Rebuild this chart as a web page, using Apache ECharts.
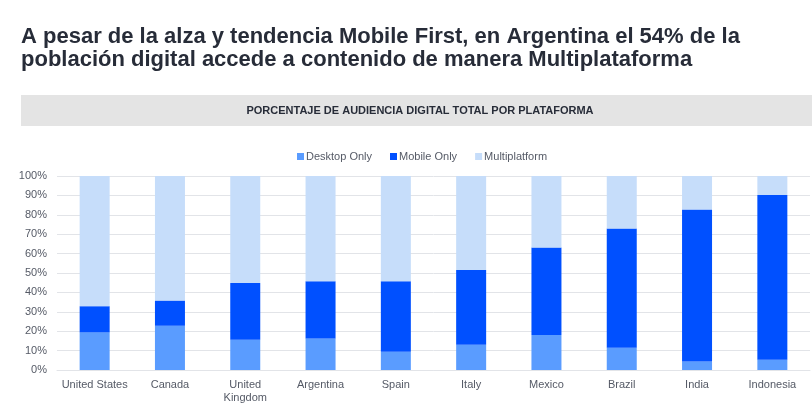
<!DOCTYPE html>
<html>
<head>
<meta charset="utf-8">
<style>
html,body{margin:0;padding:0;background:#fff;}
#chart{width:812px;height:407px;}
</style>
<script src="https://cdn.jsdelivr.net/npm/echarts@6/dist/echarts.min.js"></script>
</head>
<body>
<div id="chart"></div>
<script>
var titleText = 'A pesar de la alza y tendencia Mobile First, en Argentina el 54% de la\npoblación digital accede a contenido de manera Multiplataforma';
var bannerText = 'PORCENTAJE DE AUDIENCIA DIGITAL TOTAL POR PLATAFORMA';
var categories = ['United States','Canada','United Kingdom','Argentina','Spain','Italy','Mexico','Brazil','India','Indonesia'];
var seriesNames = ['Desktop Only','Mobile Only','Multiplatform'];
var desktopOnly = [19.4, 22.8, 15.6, 16.3, 9.4, 13.0, 18.0, 11.5, 4.4, 5.3];
var mobileOnly  = [13.5, 13.0, 29.3, 29.5, 36.4, 38.5, 45.1, 61.4, 78.3, 84.9];
var multiplatform = [67.1, 64.2, 55.1, 54.2, 54.2, 48.5, 36.9, 27.1, 17.3, 9.8];
var yTicks = [0,10,20,30,40,50,60,70,80,90,100];

var FONT = '"Liberation Sans", Arial, Helvetica, sans-serif';
var colors = ['#5a9cff', '#0050ff', '#c6ddfa'];
var chart = echarts.init(document.getElementById('chart'), null, {renderer:'canvas'});
var values = [desktopOnly, mobileOnly, multiplatform];

chart.setOption({
  animation: false,
  color: colors,
  textStyle: {fontFamily: FONT},
  title: {
    text: titleText,
    left: 16,
    top: 20,
    textStyle: {fontFamily: FONT, fontSize: 22, fontWeight: 'bold', color: '#272c38', lineHeight: 23}
  },
  graphic: [
    {type:'rect', left: 21, top: 95, shape:{width: 791, height: 31}, style:{fill:'#e4e4e4'}, silent:true},
    {type:'text', x: 420, y: 111, style:{text: bannerText, fill:'#272c38', font: 'bold 11px ' + FONT, textAlign:'center', textVerticalAlign:'middle'}, silent:true}
  ],
  legend: {
    data: seriesNames,
    left: 292,
    top: 146,
    icon: 'rect',
    itemWidth: 7,
    itemHeight: 7,
    itemGap: 18,
    textStyle: {fontFamily: FONT, fontSize: 11, color: '#555a66', padding:[0,0,0,-3]}
  },
  grid: {left: 57, right: 2, top: 176, bottom: 37},
  xAxis: {
    type: 'category',
    data: categories,
    axisLine: {show: true, lineStyle: {color: '#e2e4e8'}},
    axisTick: {show: false},
    axisLabel: {
      fontFamily: FONT, fontSize: 11, color: '#555a66', margin: 8, interval: 0, lineHeight: 13,
      formatter: function(v){ return v === 'United Kingdom' ? 'United\nKingdom' : v; }
    }
  },
  yAxis: {
    type: 'value',
    min: yTicks[0],
    max: yTicks[yTicks.length-1],
    interval: yTicks[1]-yTicks[0],
    axisLine: {show: false},
    axisTick: {show: false},
    axisLabel: {fontFamily: FONT, fontSize: 11, color: '#555a66', margin: 10, formatter: '{value}%'},
    splitLine: {lineStyle: {color: '#e2e4e8', width: 1}}
  },
  series: seriesNames.map(function(n, i){
    return {name: n, type: 'bar', stack: 'total', barWidth: 30, data: values[i], itemStyle:{color: colors[i]}};
  })
});
</script>
</body>
</html>
